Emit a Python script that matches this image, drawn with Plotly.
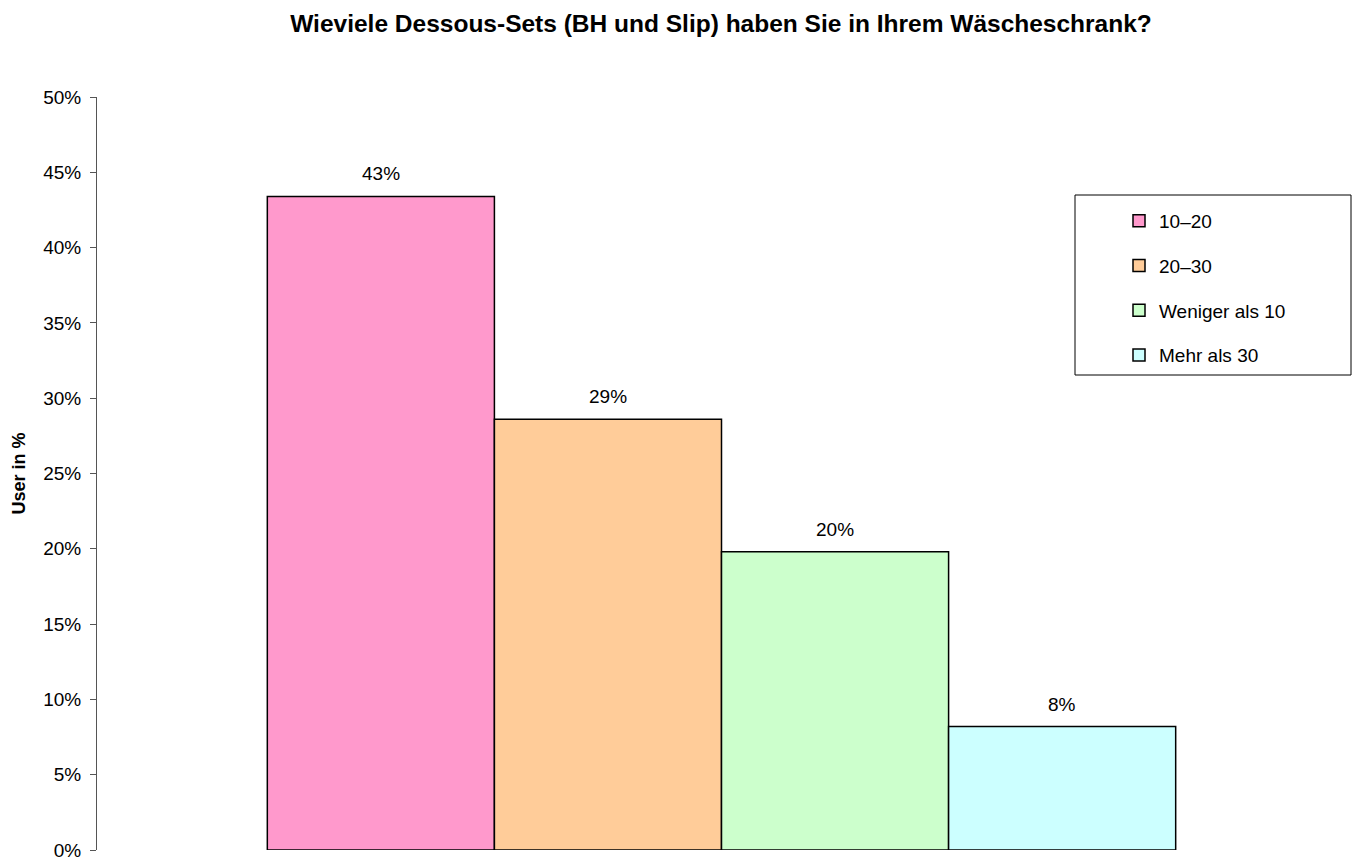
import plotly.graph_objects as go

# Survey answers: share of users per number of lingerie sets owned
categories = ["10–20", "20–30", "Weniger als 10", "Mehr als 30"]
shares = [43.4, 28.6, 19.8, 8.2]
colors = ["#FF99CC", "#FFCC99", "#CCFFCC", "#CCFFFF"]
y_ticks = [0, 5, 10, 15, 20, 25, 30, 35, 40, 45, 50]

FONT = "Liberation Sans, Arial, sans-serif"
W, H = 1355, 859
L, R, T, B = 97, 9, 97, 9
PW, PH = W - L - R, H - T - B

fig = go.Figure()
for i, (name, val, col) in enumerate(zip(categories, shares, colors)):
    fig.add_trace(go.Bar(
        x=[i],
        y=[val],
        width=1,
        name=name,
        legendgroup=name,
        marker=dict(color=col, line=dict(color="#000000", width=1.5)),
    ))
    # value label above each bar
    fig.add_annotation(
        x=i, y=val, xref="x", yref="y",
        text=f"{val:.0f}%",
        showarrow=False, yanchor="bottom", yshift=10,
        font=dict(family=FONT, size=19, color="#000000"),
    )

fig.update_layout(
    width=W, height=H,
    margin=dict(l=L, r=R, t=T, b=B, autoexpand=False),
    paper_bgcolor="white",
    plot_bgcolor="white",
    font=dict(family=FONT, size=19, color="#000000"),
    barmode="overlay",
    title=dict(
        text="<b>Wieviele Dessous-Sets (BH und Slip) haben Sie in Ihrem Wäscheschrank?</b>",
        x=721 / W, xanchor="center", xref="container",
        y=1 - 23 / H, yanchor="middle", yref="container",
        font=dict(family=FONT, size=24.5, color="#000000"),
    ),
    xaxis=dict(range=[-1.25, 4.25], showline=False, showticklabels=False,
               showgrid=False, zeroline=False, fixedrange=True, automargin=False),
    yaxis=dict(
        range=[0, 50],
        automargin=False,
        tickvals=y_ticks,
        ticktext=[f"{t}%" for t in y_ticks],
        ticks="outside", ticklen=6, tickcolor="#555555", tickwidth=1,
        showline=True, linecolor="#555555", linewidth=1,
        showgrid=False, zeroline=False,
        ticklabelstandoff=5,
        ticklabeloverflow="allow",
        tickfont=dict(family=FONT, size=19),
        title=dict(text="<b>User in %</b>", font=dict(family=FONT, size=18), standoff=12),
    ),
    legend=dict(
        x=(1119 - L) / PW, xanchor="left",
        y=1 - (202 - T) / PH, yanchor="top",
        bgcolor="rgba(0,0,0,0)",
        borderwidth=0,
        tracegroupgap=17,
        font=dict(family=FONT, size=19),
        itemwidth=30,
    ),
    shapes=[dict(
        type="rect", xref="paper", yref="paper",
        x0=(1075 - L) / PW, x1=(1351 - L) / PW,
        y0=1 - (375 - T) / PH, y1=1 - (195 - T) / PH,
        line=dict(color="#000000", width=1),
        fillcolor="white", layer="below",
    )],
)

fig.write_html("out.html")
